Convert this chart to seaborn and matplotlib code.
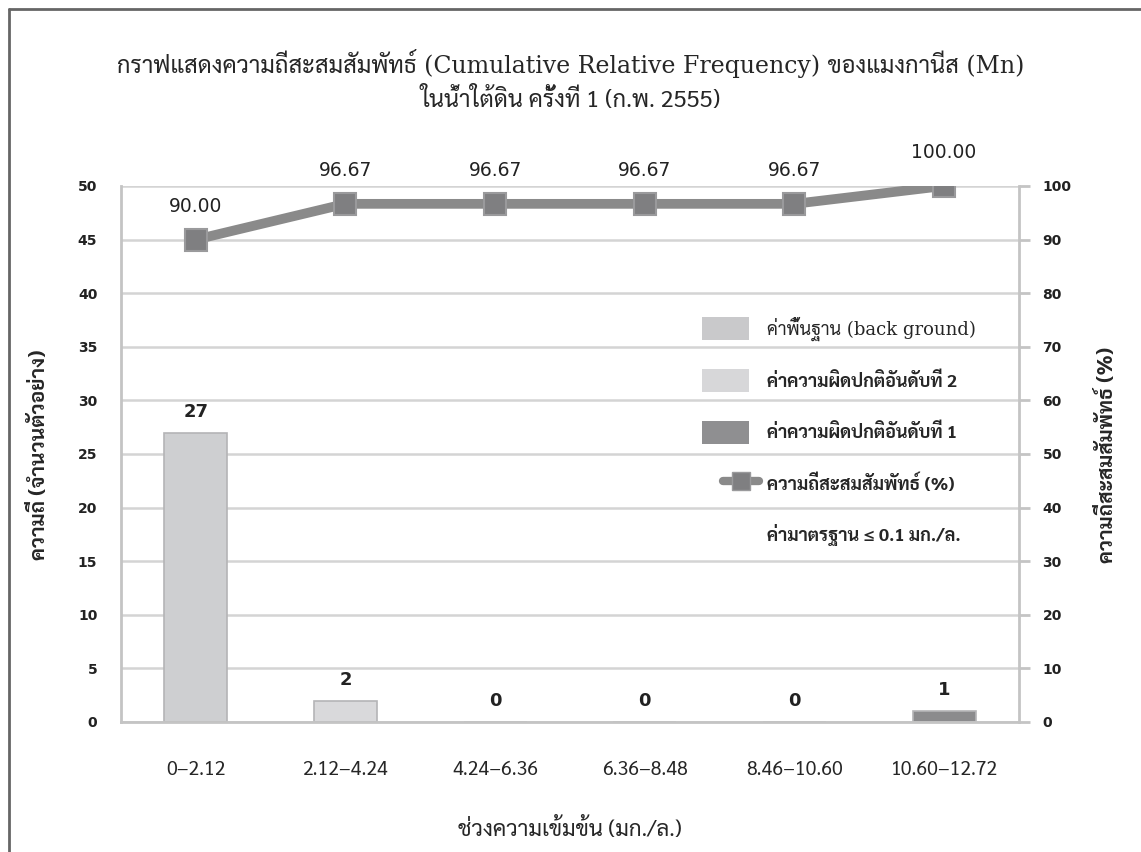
import matplotlib
matplotlib.use("Agg")
import matplotlib.pyplot as plt
from matplotlib.patches import Patch
from matplotlib.lines import Line2D
from matplotlib.legend_handler import HandlerLine2D
import seaborn as sns
import numpy as np
import pandas as pd

# ---- data ----
categories = ["0\u22122.12", "2.12\u22124.24", "4.24\u22126.36", "6.36\u22128.48",
              "8.46\u221210.60", "10.60\u221212.72"]
counts = [27, 2, 0, 0, 0, 1]
cumulative_pct = [90.00, 96.67, 96.67, 96.67, 96.67, 100.00]
bar_colors = ["#cecfd1", "#d9d9db", "#d9d9db", "#d9d9db", "#d9d9db", "#8b8b8d"]
left_ticks = [0, 5, 10, 15, 20, 25, 30, 35, 40, 45, 50]
right_ticks = [0, 10, 20, 30, 40, 50, 60, 70, 80, 90, 100]

title_line1 = "กราฟแสดงความถี่สะสมสัมพัทธ์ (Cumulative Relative Frequency) ของแมงกานีส (Mn)"
title_line2 = "ในน้ำใต้ดิน ครั้งที่ 1 (ก.พ. 2555)"
xlabel_text = "ช่วงความเข้มข้น (มก./ล.)"
ylabel_left = "ความถี่ (จำนวนตัวอย่าง)"
ylabel_right = "ความถี่สะสมสัมพัทธ์ (%)"
legend_labels = ["ค่าพื้นฐาน (back ground)", "ค่าความผิดปกติอันดับที่ 2",
                 "ค่าความผิดปกติอันดับที่ 1", "ความถี่สะสมสัมพัทธ์ (%)",
                 "ค่ามาตรฐาน ≤ 0.1 มก./ล."]
legend_colors = ["#c9c9cb", "#d7d7d9", "#8f8f91"]

sns.set_theme(style="white")
THAI = ["Sarabun", "DejaVu Sans"]
SERIF_THAI = ["DejaVu Serif", "Sarabun"]
NUM = ["DejaVu Sans"]
plt.rcParams["font.family"] = THAI


class ShiftedLineHandler(HandlerLine2D):
    """Shorter line key, nudged towards its label."""

    def create_artists(self, legend, orig_handle, xdescent, ydescent, width, height,
                       fontsize, trans):
        return super().create_artists(legend, orig_handle, xdescent - 15, ydescent,
                                      width * 0.78, height, fontsize, trans)


df = pd.DataFrame({"range": categories, "count": counts, "cum": cumulative_pct})

fig = plt.figure(figsize=(11.41, 8.52), dpi=100)
ax = fig.add_axes([0.106, 0.1526, 0.787, 0.6291])

sns.barplot(data=df, x="range", y="count", hue="range", palette=bar_colors,
            width=0.42, legend=False, ax=ax, edgecolor="#b4b4b6", linewidth=1.2, saturation=1)
ax.set_xlim(-0.5, len(categories) - 0.5)
ax.set_ylim(0, 50)
ax.set_yticks(left_ticks)
ax.grid(axis="y", color="#d4d4d4", linewidth=1.8)
ax.set_axisbelow(True)
for s in ["top", "right"]:
    ax.spines[s].set_visible(False)
for s in ["left", "bottom"]:
    ax.spines[s].set_color("#c4c4c4")
    ax.spines[s].set_linewidth(2)

# category labels centred, boundary ticks as minor ticks
ax.set_xticks(np.arange(len(categories)))
ax.set_xticklabels(categories, fontsize=14, family=THAI)
ax.set_xticks(np.arange(len(categories) + 1) - 0.5, minor=True)
ax.tick_params(axis="x", which="major", length=0, pad=28)
ax.tick_params(axis="x", which="minor", length=12, width=1.5, color="#b0b0b0", direction="out")
ax.tick_params(axis="y", length=0, pad=17)
for t in ax.get_yticklabels():
    t.set_fontfamily(NUM)
    t.set_fontweight("bold")
    t.set_fontsize(10)
    t.set_color("#222222")

ax.set_xlabel(xlabel_text, fontsize=16, family=THAI, va="center")
ax.xaxis.set_label_coords(0.5, (722 - 830) / 536)
ax.set_ylabel(ylabel_left, fontsize=15, family=THAI, fontweight="bold", ha="center", va="center")
ax.yaxis.set_label_coords((40 - 121) / 898, 0.498)

for i, v in enumerate(counts):
    ax.annotate(f"{v}", (i, v), xytext=(0, 15), textcoords="offset points",
                ha="center", va="center", fontsize=13, fontweight="bold",
                color="#222222", family=NUM)

ax2 = ax.twinx()
sns.lineplot(x=np.arange(len(categories)), y=cumulative_pct, ax=ax2, color="#8a8a8a",
             linewidth=7, marker="s", markersize=16, markerfacecolor="#7f7f81",
             markeredgecolor="#9a9a9c", markeredgewidth=1.5)
ax2.set_ylim(0, 100)
ax2.set_yticks(right_ticks)
ax2.set_xlim(-0.5, len(categories) - 0.5)
for s in ["top", "left", "bottom"]:
    ax2.spines[s].set_visible(False)
ax2.spines["right"].set_color("#c4c4c4")
ax2.spines["right"].set_linewidth(2)
ax2.tick_params(axis="y", length=8, width=2, color="#c4c4c4", pad=9)
for t in ax2.get_yticklabels():
    t.set_fontfamily(NUM)
    t.set_fontweight("bold")
    t.set_fontsize(10)
    t.set_color("#222222")
ax2.set_ylabel(ylabel_right, fontsize=15, family=THAI, fontweight="bold",
               rotation=90, ha="center", va="center")
ax2.yaxis.set_label_coords((1108 - 121) / 898, 0.498)

for i, v in enumerate(cumulative_pct):
    ax2.annotate(f"{v:.2f}", (i, v), xytext=(0, 24), textcoords="offset points",
                 ha="center", va="center", fontsize=13.5, color="#222222", family=NUM)

handles = [Patch(facecolor=c, edgecolor="none") for c in legend_colors]
line_key = Line2D([0], [0], color="#8a8a8a", linewidth=6, marker="s", markersize=13,
                  markerfacecolor="#7f7f81", markeredgecolor="#9a9a9c")
handles.append(line_key)
handles.append(Line2D([0], [0], color="none"))
leg = ax2.legend(handles, legend_labels, loc="upper left", bbox_to_anchor=(0.647, 0.757),
                 frameon=False, prop={"family": THAI, "size": 13, "weight": "bold"},
                 handlelength=2.6, handleheight=1.55, labelspacing=1.6,
                 borderpad=0, borderaxespad=0, handletextpad=1.0,
                 handler_map={line_key: ShiftedLineHandler(numpoints=1)})
leg.get_texts()[0].set_fontfamily(SERIF_THAI)
leg.get_texts()[0].set_fontweight("normal")

fig.text(0.5, 1 - 64 / 852, title_line1, ha="center", va="center", fontsize=17, family=SERIF_THAI)
fig.text(0.5, 1 - 99 / 852, title_line2, ha="center", va="center", fontsize=17, family=THAI)

# outer frame on left and top
fig.add_artist(Line2D([0.0075, 0.0075], [0, 0.99], color="#666666", linewidth=2))
fig.add_artist(Line2D([0.0075, 1.0], [0.99, 0.99], color="#666666", linewidth=2))

fig.savefig("out.png", dpi=100)
